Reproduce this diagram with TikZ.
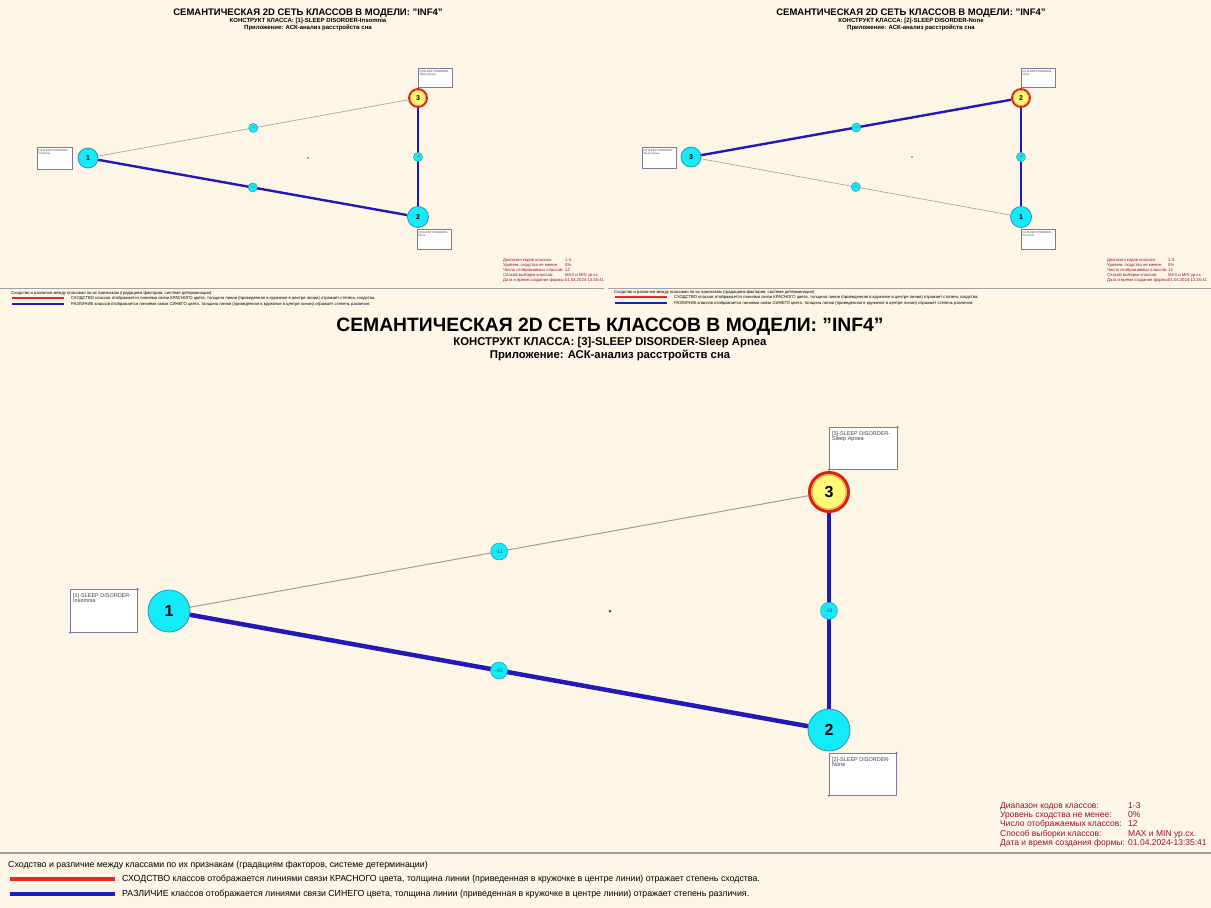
\documentclass[tikz,border=0pt]{standalone}
\usepackage{fontspec}
\setmainfont{Liberation Sans}
\usepackage{graphicx}

\definecolor{bgcream}{RGB}{253,246,231}
\definecolor{nodecyan}{RGB}{20,235,250}
\definecolor{cyanedge}{RGB}{40,150,175}
\definecolor{focusyellow}{RGB}{255,250,120}
\definecolor{ringred}{RGB}{215,35,20}
\definecolor{ringorange}{RGB}{245,150,60}
\definecolor{difblue}{RGB}{35,25,185}
\definecolor{simgray}{RGB}{165,155,155}
\definecolor{infored}{RGB}{150,20,35}
\definecolor{legred}{RGB}{230,40,40}
\definecolor{legblue}{RGB}{25,30,200}
\definecolor{boxedge}{RGB}{130,120,155}
\definecolor{sepgray}{RGB}{160,160,160}

\newcommand\fsz[1]{\fontsize{#1}{#1}\selectfont}

\begin{document}
\begin{tikzpicture}[x=1pt,y=-1pt,
  clsnode/.style={circle, fill=nodecyan, draw=cyanedge, line width=0.8pt, inner sep=0pt, text=black, font=\bfseries},
  focusnode/.style={circle, fill=focusyellow, draw=ringred, inner sep=0pt, text=black, font=\bfseries},
  wlabel/.style={circle, fill=nodecyan, draw=cyanedge, line width=0.5pt, inner sep=0pt, text=black!70},
  lblbox/.style={draw=boxedge, fill=white, line width=0.6pt, inner sep=0pt, anchor=north west},
  boxtext/.style={anchor=north west, align=left, inner sep=0pt, text=black!75},
  simline/.style={draw=simgray},
  difline/.style={draw=difblue},
  infotext/.style={anchor=west, inner sep=0pt, text=infored},
  legtext/.style={anchor=west, inner sep=0pt, text=black},
  ttl/.style={inner sep=0pt, font=\bfseries},
  sepline/.style={draw=sepgray, line width=1pt},
  cdot/.style={circle, fill=black!70, inner sep=0pt, minimum size=#1},
]
% page background
\fill[bgcream] (0,0) rectangle (1211,908);
\useasboundingbox (0,0) rectangle (1211,908);

% ================= upper left network =================
\node[ttl, font=\bfseries\fsz{9.5}] (at1) at (308,13) {СЕМАНТИЧЕСКАЯ 2D СЕТЬ КЛАССОВ В МОДЕЛИ: "INF4"};
\node[ttl, font=\bfseries\fsz{6}] (at2) at (308,21) {КОНСТРУКТ КЛАССА: [1]-SLEEP DISORDER-Insomnia};
\node[ttl, font=\bfseries\fsz{6}] (at3) at (308,28) {Приложение: АСК-анализ расстройств сна};

\node[lblbox, minimum width=34pt, minimum height=19pt] (ab3) at (418,68) {};
\node[boxtext, font=\fsz{2.8}] (ab3t) at ([shift={(1.5,2)}]ab3.north west) {[3]-SLEEP DISORDER-\\Sleep Apnea};
\node[lblbox, minimum width=35pt, minimum height=22pt] (ab1) at (37,147) {};
\node[boxtext, font=\fsz{2.8}] (ab1t) at ([shift={(1.5,2)}]ab1.north west) {[1]-SLEEP DISORDER-\\Insomnia};
\node[lblbox, minimum width=34pt, minimum height=20pt] (ab2) at (417,229) {};
\node[boxtext, font=\fsz{2.8}] (ab2t) at ([shift={(1.5,2)}]ab2.north west) {[2]-SLEEP DISORDER-\\None};

\node[clsnode, minimum size=20pt, font=\bfseries\fsz{7}] (a1) at (88,158) {1};
\node[focusnode, minimum size=18pt, line width=1.8pt, font=\bfseries\fsz{7}] (a3) at (418,98) {3};
\draw[ringorange, line width=0.6pt] (a3) circle (7.6pt);
\node[clsnode, minimum size=21pt, font=\bfseries\fsz{7}] (a2) at (418,217) {2};
\node[cdot=1.6pt] (ac) at (308,158) {};

\draw[simline, line width=0.6pt] (a1) -- node[wlabel, minimum size=9pt, font=\fsz{2.5}] (aw13) {-11} (a3);
\draw[difline, line width=2.4pt] (a1) -- node[wlabel, minimum size=9pt, font=\fsz{2.5}] (aw12) {-43} (a2);
\draw[difline, line width=1.8pt] (a3) -- node[wlabel, minimum size=9pt, font=\fsz{2.5}] (aw32) {-24} (a2);

\node[infotext, font=\fsz{4.2}] (ai1) at (503,260) {Диапазон кодов классов:};
\node[infotext, font=\fsz{4.2}] (ai2) at (503,265) {Уровень сходства не менее:};
\node[infotext, font=\fsz{4.2}] (ai3) at (503,270) {Число отображаемых классов:};
\node[infotext, font=\fsz{4.2}] (ai4) at (503,275) {Способ выборки классов:};
\node[infotext, font=\fsz{4.2}] (ai5) at (503,280) {Дата и время создания формы:};
\node[infotext, font=\fsz{4.2}] (av1) at (565,260) {1-3};
\node[infotext, font=\fsz{4.2}] (av2) at (565,265) {0\%};
\node[infotext, font=\fsz{4.2}] (av3) at (565,270) {12};
\node[infotext, font=\fsz{4.2}] (av4) at (565,275) {MAX и MIN ур.сх.};
\node[infotext, font=\fsz{4.2}] (av5) at (565,280) {01.04.2024-13:35:41};

\draw[sepline, line width=0.8pt] (0,288) -- (604,288);
\node[legtext, font=\fsz{4.2}] (al0) at (11,293) {Сходство и различие между классами по их признакам (градациям факторов, системе детерминации)};
\draw[legred, line width=2pt] (12,298) -- (64,298);
\draw[legblue, line width=2pt] (12,304) -- (64,304);
\node[legtext, font=\fsz{4.2}] (al1) at (71,298) {СХОДСТВО классов отображается линиями связи КРАСНОГО цвета, толщина линии (приведенная в кружочке в центре линии) отражает степень сходства.};
\node[legtext, font=\fsz{4.2}] (al2) at (71,304) {РАЗЛИЧИЕ классов отображается линиями связи СИНЕГО цвета, толщина линии (приведенная в кружочке в центре линии) отражает степень различия.};

% ================= upper right network =================
\node[ttl, font=\bfseries\fsz{9.5}] (bt1) at (911,13) {СЕМАНТИЧЕСКАЯ 2D СЕТЬ КЛАССОВ В МОДЕЛИ: "INF4"};
\node[ttl, font=\bfseries\fsz{6}] (bt2) at (911,21) {КОНСТРУКТ КЛАССА: [2]-SLEEP DISORDER-None};
\node[ttl, font=\bfseries\fsz{6}] (bt3) at (911,28) {Приложение: АСК-анализ расстройств сна};

\node[lblbox, minimum width=34pt, minimum height=19pt] (bb2) at (1021,68) {};
\node[boxtext, font=\fsz{2.8}] (bb2t) at ([shift={(1.5,2)}]bb2.north west) {[2]-SLEEP DISORDER-\\None};
\node[lblbox, minimum width=34pt, minimum height=21pt] (bb3) at (642,147) {};
\node[boxtext, font=\fsz{2.8}] (bb3t) at ([shift={(1.5,2)}]bb3.north west) {[3]-SLEEP DISORDER-\\Sleep Apnea};
\node[lblbox, minimum width=34pt, minimum height=20pt] (bb1) at (1021,229) {};
\node[boxtext, font=\fsz{2.8}] (bb1t) at ([shift={(1.5,2)}]bb1.north west) {[1]-SLEEP DISORDER-\\Insomnia};

\node[clsnode, minimum size=20pt, font=\bfseries\fsz{7}] (b3) at (691,157) {3};
\node[focusnode, minimum size=18pt, line width=1.8pt, font=\bfseries\fsz{7}] (b2) at (1021,98) {2};
\draw[ringorange, line width=0.6pt] (b2) circle (7.6pt);
\node[clsnode, minimum size=21pt, font=\bfseries\fsz{7}] (b1) at (1021,217) {1};
\node[cdot=1.6pt] (bc) at (912,157) {};

\draw[difline, line width=2.4pt] (b3) -- node[wlabel, minimum size=9pt, font=\fsz{2.5}] (bw32) {-24} (b2);
\draw[simline, line width=0.6pt] (b3) -- node[wlabel, minimum size=9pt, font=\fsz{2.5}] (bw31) {-11} (b1);
\draw[difline, line width=2.6pt] (b2) -- node[wlabel, minimum size=9pt, font=\fsz{2.5}] (bw21) {-43} (b1);

\node[infotext, font=\fsz{4.2}] (bi1) at (1107,260) {Диапазон кодов классов:};
\node[infotext, font=\fsz{4.2}] (bi2) at (1107,265) {Уровень сходства не менее:};
\node[infotext, font=\fsz{4.2}] (bi3) at (1107,270) {Число отображаемых классов:};
\node[infotext, font=\fsz{4.2}] (bi4) at (1107,275) {Способ выборки классов:};
\node[infotext, font=\fsz{4.2}] (bi5) at (1107,280) {Дата и время создания формы:};
\node[infotext, font=\fsz{4.2}] (bv1) at (1168,260) {1-3};
\node[infotext, font=\fsz{4.2}] (bv2) at (1168,265) {0\%};
\node[infotext, font=\fsz{4.2}] (bv3) at (1168,270) {12};
\node[infotext, font=\fsz{4.2}] (bv4) at (1168,275) {MAX и MIN ур.сх.};
\node[infotext, font=\fsz{4.2}] (bv5) at (1168,280) {01.04.2024-13:35:41};

\draw[sepline, line width=0.8pt] (608,288) -- (1211,288);
\node[legtext, font=\fsz{4.2}] (bl0) at (614,292) {Сходство и различие между классами по их признакам (градациям факторов, системе детерминации)};
\draw[legred, line width=2pt] (615,297) -- (667,297);
\draw[legblue, line width=2pt] (615,303) -- (667,303);
\node[legtext, font=\fsz{4.2}] (bl1) at (674,297) {СХОДСТВО классов отображается линиями связи КРАСНОГО цвета, толщина линии (приведенная в кружочке в центре линии) отражает степень сходства.};
\node[legtext, font=\fsz{4.2}] (bl2) at (674,303) {РАЗЛИЧИЕ классов отображается линиями связи СИНЕГО цвета, толщина линии (приведенная в кружочке в центре линии) отражает степень различия.};

% ================= main network =================
\node[ttl, font=\bfseries\fsz{19.3}] (mt1) at (610,327) {СЕМАНТИЧЕСКАЯ 2D СЕТЬ КЛАССОВ В МОДЕЛИ: "INF4"};
\node[ttl, font=\bfseries\fsz{11.3}] (mt2) at (610,343) {КОНСТРУКТ КЛАССА: [3]-SLEEP DISORDER-Sleep Apnea};
\node[ttl, font=\bfseries\fsz{11.3}] (mt3) at (610,355) {Приложение: АСК-анализ расстройств сна};

\node[lblbox, minimum width=68pt, minimum height=42pt] (mb3) at (829,427) {};
\node[boxtext, font=\fsz{5.5}] (mb3t) at ([shift={(3,4)}]mb3.north west) {[3]-SLEEP DISORDER-\\Sleep Apnea};
\node[lblbox, minimum width=67pt, minimum height=43pt] (mb1) at (70,589) {};
\node[boxtext, font=\fsz{5.5}] (mb1t) at ([shift={(3,4)}]mb1.north west) {[1]-SLEEP DISORDER-\\Insomnia};
\node[lblbox, minimum width=67pt, minimum height=42pt] (mb2) at (829,753) {};
\node[boxtext, font=\fsz{5.5}] (mb2t) at ([shift={(3,4)}]mb2.north west) {[2]-SLEEP DISORDER-\\None};
\foreach \b in {mb1,mb2,mb3}{
  \fill[boxedge] (\b.north east) circle (1.2pt);
  \fill[boxedge] (\b.south west) circle (1.2pt);
}

\node[clsnode, minimum size=42pt, font=\bfseries\fsz{16}] (m1) at (169,611) {1};
\node[focusnode, minimum size=39pt, line width=3pt, font=\bfseries\fsz{16}] (m3) at (829,492) {3};
\draw[ringorange, line width=1pt] (m3) circle (17.2pt);
\node[clsnode, minimum size=42pt, font=\bfseries\fsz{16}] (m2) at (829,730) {2};
\node[cdot=3pt] (mc) at (610,611) {};

\draw[simline, line width=1pt] (m1) -- node[wlabel, minimum size=17pt, font=\fsz{5}] (mw13) {-11} (m3);
\draw[difline, line width=4.5pt] (m1) -- node[wlabel, minimum size=17pt, font=\fsz{5}] (mw12) {-43} (m2);
\draw[difline, line width=3.2pt] (m3) -- node[wlabel, minimum size=17pt, font=\fsz{5}] (mw32) {-24} (m2);

\node[infotext, font=\fsz{8.5}] (mi1) at (1000,806) {Диапазон кодов классов:};
\node[infotext, font=\fsz{8.5}] (mi2) at (1000,815) {Уровень сходства не менее:};
\node[infotext, font=\fsz{8.5}] (mi3) at (1000,824) {Число отображаемых классов:};
\node[infotext, font=\fsz{8.5}] (mi4) at (1000,834) {Способ выборки классов:};
\node[infotext, font=\fsz{8.5}] (mi5) at (1000,843) {Дата и время создания формы:};
\node[infotext, font=\fsz{8.5}] (mv1) at (1128,806) {1-3};
\node[infotext, font=\fsz{8.5}] (mv2) at (1128,815) {0\%};
\node[infotext, font=\fsz{8.5}] (mv3) at (1128,824) {12};
\node[infotext, font=\fsz{8.5}] (mv4) at (1128,834) {MAX и MIN ур.сх.};
\node[infotext, font=\fsz{8.5}] (mv5) at (1128,843) {01.04.2024-13:35:41};

\draw[sepline, line width=1.2pt] (0,853) -- (1211,853);
\node[legtext, font=\fsz{8.8}] (ml0) at (8,865) {Сходство и различие между классами по их признакам (градациям факторов, системе детерминации)};
\draw[legred, line width=4pt] (10,879) -- (115,879);
\draw[legblue, line width=4pt] (10,894) -- (115,894);
\node[legtext, font=\fsz{8.8}] (ml1) at (122,879) {СХОДСТВО классов отображается линиями связи КРАСНОГО цвета, толщина линии (приведенная в кружочке в центре линии) отражает степень сходства.};
\node[legtext, font=\fsz{8.8}] (ml2) at (122,894) {РАЗЛИЧИЕ классов отображается линиями связи СИНЕГО цвета, толщина линии (приведенная в кружочке в центре линии) отражает степень различия.};
\end{tikzpicture}
\end{document}
